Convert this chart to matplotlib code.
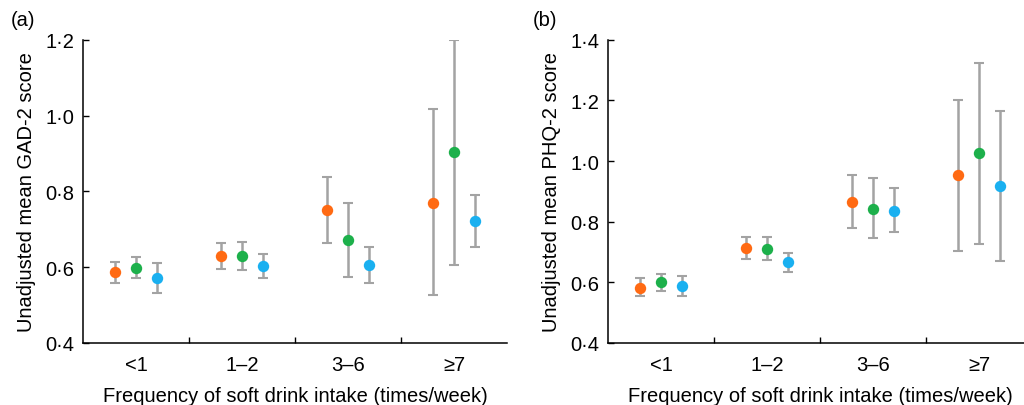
import matplotlib
matplotlib.use("Agg")
import matplotlib.pyplot as plt
import numpy as np

plt.rcParams['font.family'] = ['Liberation Sans', 'DejaVu Sans']

categories = ["<1", "1–2", "3–6", "≥7"]
series_colors = ["#FF6A13", "#1DB04B", "#1AB0F0"]

# Panel (a) GAD-2: mean, lower, upper for each of 3 series
gad_mean = [[0.586, 0.629, 0.751, 0.770],
            [0.599, 0.629, 0.671, 0.903],
            [0.571, 0.604, 0.606, 0.722]]
gad_low = [[0.557, 0.594, 0.665, 0.526],
           [0.571, 0.593, 0.573, 0.607],
           [0.531, 0.572, 0.558, 0.653]]
gad_high = [[0.614, 0.665, 0.837, 1.017],
            [0.626, 0.667, 0.769, 1.199],
            [0.612, 0.636, 0.652, 0.791]]

# Panel (b) PHQ-2
phq_mean = [[0.582, 0.713, 0.865, 0.953],
            [0.600, 0.711, 0.843, 1.025],
            [0.589, 0.666, 0.836, 0.919]]
phq_low = [[0.554, 0.678, 0.779, 0.704],
           [0.573, 0.675, 0.745, 0.725],
           [0.556, 0.635, 0.765, 0.669]]
phq_high = [[0.613, 0.748, 0.955, 1.201],
            [0.627, 0.748, 0.943, 1.323],
            [0.622, 0.697, 0.911, 1.166]]

gad_yticks = [0.4, 0.6, 0.8, 1.0, 1.2]
phq_yticks = [0.4, 0.6, 0.8, 1.0, 1.2, 1.4]

fig = plt.figure(figsize=(10.24, 4.06), dpi=100)
W, H = 1024, 406
ax_a = fig.add_axes([83/W, 1-344/H, 424/W, (344-40.7)/H])
ax_b = fig.add_axes([608/W, 1-344/H, 424/W, (344-40.7)/H])

FS = 14.5

def draw(ax, means, lows, highs, yticks, ylabel, panel, px):
    x = np.arange(1, len(categories)+1)
    offsets = [-0.2, 0.0, 0.2]
    for s in range(3):
        m = np.array(means[s]); lo = np.array(lows[s]); hi = np.array(highs[s])
        ax.errorbar(x + offsets[s], m, yerr=[m - lo, hi - m], fmt='none',
                    ecolor='#A3A3A3', elinewidth=1.8, capsize=3.4, capthick=1.5, zorder=2)
        ax.plot(x + offsets[s], m, 'o', color=series_colors[s], markersize=8.2,
                markeredgewidth=0, zorder=3)
    ax.set_xlim(0.5, len(categories)+0.5)
    ax.set_ylim(yticks[0], yticks[-1])
    ax.set_yticks(yticks)
    ax.set_yticklabels([f"{v:.1f}".replace('.', '·') for v in yticks], fontsize=FS)
    ax.set_xticks(np.arange(1.5, len(categories)+0.5, 1.0))
    ax.set_xticklabels([])
    ax.set_xticks(x, minor=True)
    ax.set_xticklabels(categories, minor=True, fontsize=FS)
    ax.tick_params(axis='x', which='major', direction='in', length=4, width=1)
    ax.tick_params(axis='x', which='minor', length=0, pad=9)
    ax.tick_params(axis='y', direction='in', length=4, width=1, pad=6)
    for sp in ['top', 'right']:
        ax.spines[sp].set_visible(False)
    for sp in ['left', 'bottom']:
        ax.spines[sp].set_linewidth(1.1)
    ax.set_ylabel(ylabel, fontsize=FS, labelpad=7)
    ax.set_xlabel("Frequency of soft drink intake (times/week)", fontsize=FS, labelpad=8)
    fig.text(px[0]/W, 1-px[1]/H, panel, fontsize=FS, ha='left', va='center')

draw(ax_a, gad_mean, gad_low, gad_high, gad_yticks, "Unadjusted mean GAD-2 score", "(a)", (11, 20))
draw(ax_b, phq_mean, phq_low, phq_high, phq_yticks, "Unadjusted mean PHQ-2 score", "(b)", (533, 21))

fig.savefig("out.png", dpi=100)
